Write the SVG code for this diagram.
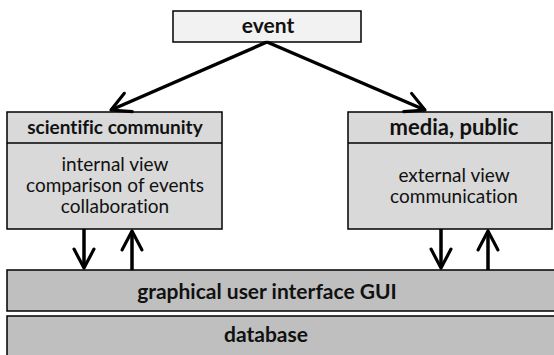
<svg xmlns="http://www.w3.org/2000/svg" width="554" height="355" viewBox="0 0 554 355">
<defs>
<marker id="ah" viewBox="0 0 10 10" refX="9" refY="5" markerWidth="7.5" markerHeight="7.5" orient="auto" markerUnits="strokeWidth">
<path d="M1.8,1.2 L9,5 L1.8,8.8" fill="none" stroke="#000" stroke-width="1.2" stroke-linecap="round" stroke-linejoin="round"/>
</marker>
</defs>
<style>
.box{stroke:#000;stroke-width:1.5}
.t{font-family:Lato,"Open Sans",sans-serif;text-anchor:middle;fill:#111;font-variant-ligatures:none}
.b{font-weight:bold}
.c{stroke:#000;stroke-width:3.5;fill:none;marker-end:url(#ah)}
</style>
<rect width="554" height="355" fill="#fff"/>
<g id="event">
<rect class="box" x="173" y="11" width="188" height="31" fill="#f2f2f2"/>
<text class="t b" x="268" y="33" font-size="21">event</text>
</g>
<g id="scientific">
<rect class="box" x="7" y="112" width="215" height="117" fill="#d9d9d9"/>
<line class="box" x1="7" y1="143" x2="222" y2="143"/>
<text class="t b" x="115" y="134" font-size="19">scientific community</text>
<text class="t" x="115" y="171" font-size="19">internal view</text>
<text class="t" x="115" y="192" font-size="19">comparison of events</text>
<text class="t" x="115" y="213" font-size="19">collaboration</text>
</g>
<g id="media">
<rect class="box" x="348" y="112" width="204" height="117" fill="#d9d9d9"/>
<line class="box" x1="348" y1="143" x2="552" y2="143"/>
<text class="t b" x="454" y="135" font-size="22">media, public</text>
<text class="t" x="454" y="182" font-size="19">external view</text>
<text class="t" x="454" y="203" font-size="19">communication</text>
</g>
<g id="gui">
<rect class="box" x="7" y="270" width="550" height="41" fill="#bfbfbf"/>
<text class="t b" x="267" y="299" font-size="21">graphical user interface GUI</text>
</g>
<g id="database">
<rect class="box" x="7" y="316" width="550" height="45" fill="#bfbfbf"/>
<text class="t b" x="266" y="342" font-size="21">database</text>
</g>
<g id="connectors">
<line class="c" x1="267" y1="42" x2="111" y2="110"/>
<line class="c" x1="267" y1="42" x2="425" y2="110"/>
<line class="c" x1="84" y1="229" x2="84" y2="268"/>
<line class="c" x1="132" y1="270" x2="132" y2="231"/>
<line class="c" x1="441" y1="229" x2="441" y2="268"/>
<line class="c" x1="488" y1="270" x2="488" y2="231"/>
</g>
</svg>
